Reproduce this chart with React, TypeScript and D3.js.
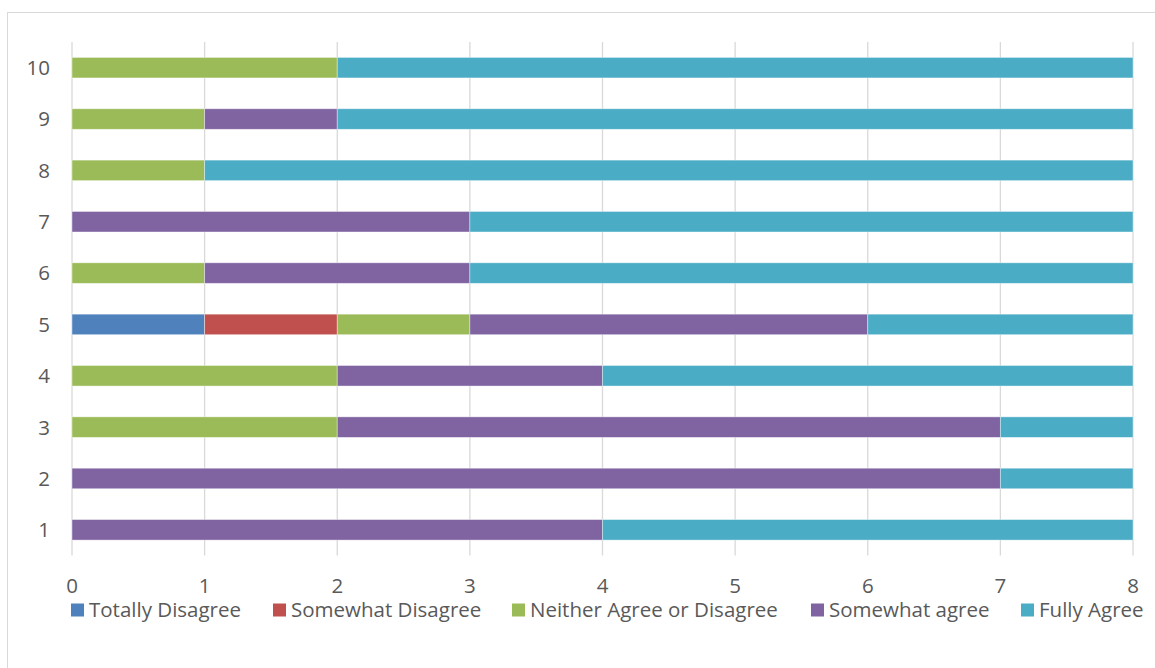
import React from 'react';
import * as d3 from 'd3';

const categories = ['1', '2', '3', '4', '5', '6', '7', '8', '9', '10'];
const seriesNames = ['Totally Disagree', 'Somewhat Disagree', 'Neither Agree or Disagree', 'Somewhat agree', 'Fully Agree'];
const seriesColors = ['#4F81BD', '#C0504D', '#9BBB59', '#8064A2', '#4BACC6'];

// one value per category, categories 1..10
const totallyDisagree = [0, 0, 0, 0, 1, 0, 0, 0, 0, 0];
const somewhatDisagree = [0, 0, 0, 0, 1, 0, 0, 0, 0, 0];
const neitherAgree = [0, 0, 2, 2, 1, 1, 0, 1, 1, 2];
const somewhatAgree = [4, 7, 5, 2, 3, 2, 3, 0, 1, 0];
const fullyAgree = [4, 1, 1, 4, 2, 5, 5, 7, 6, 6];
const xTicks = [0, 1, 2, 3, 4, 5, 6, 7, 8];

const legendX = [71, 273, 512, 811, 1021];

export default function App() {
  const width = 1155;
  const height = 668;
  const left = 72, right = 1133, top = 42, bottom = 555.5;

  const allSeries = [totallyDisagree, somewhatDisagree, neitherAgree, somewhatAgree, fullyAgree];
  const rows = categories.map((c, i) => {
    const r: any = { cat: c };
    seriesNames.forEach((s, j) => { r[s] = allSeries[j][i]; });
    return r;
  });

  const stacked = d3.stack().keys(seriesNames)(rows);

  const x = d3.scaleLinear().domain([0, 8]).range([left, right]);
  const y = d3.scaleBand()
    .domain(categories.slice().reverse())
    .range([top, bottom])
    .paddingInner(0.6)
    .paddingOuter(0.3);

  const font = '"Open Sans", sans-serif';
  const textColor = '#595959';
  const fs = 20.5;

  return (
    <svg width={width} height={height} style={{ position: 'absolute', left: 0, top: 0, background: '#fff' }}>
      <rect x={7.5} y={12.5} width={1160} height={680} fill="#fff" stroke="#d9d9d9" strokeWidth={1} />
      {xTicks.map(t => (
        <line key={'g' + t} x1={x(t)} x2={x(t)} y1={top} y2={bottom} stroke="#d9d9d9" strokeWidth={1.3} />
      ))}
      {stacked.map((layer, j) => (
        <g key={layer.key} fill={seriesColors[j]}>
          {layer.map((d: any, i) => (
            d[1] - d[0] > 0 ? (
              <rect key={i} x={x(d[0])} width={x(d[1]) - x(d[0])}
                y={y(d.data.cat)} height={y.bandwidth()}
                stroke="#ffffff" strokeOpacity={0.5} strokeWidth={0.8} />
            ) : null
          ))}
        </g>
      ))}
      {categories.map(c => (
        <text key={'y' + c} x={50} y={(y(c) as number) + y.bandwidth() / 2} dy="0.36em"
          textAnchor="end" fontFamily={font} fontSize={fs} fill={textColor}>{c}</text>
      ))}
      {xTicks.map(t => (
        <text key={'x' + t} x={x(t)} y={593} textAnchor="middle"
          fontFamily={font} fontSize={fs} fill={textColor}>{t}</text>
      ))}
      {seriesNames.map((s, j) => (
        <g key={'l' + s}>
          <rect x={legendX[j]} y={603.5} width={13} height={13} fill={seriesColors[j]} />
          <text x={legendX[j] + 18} y={617} fontFamily={font} fontSize={fs} fill={textColor}>{s}</text>
        </g>
      ))}
    </svg>
  );
}
